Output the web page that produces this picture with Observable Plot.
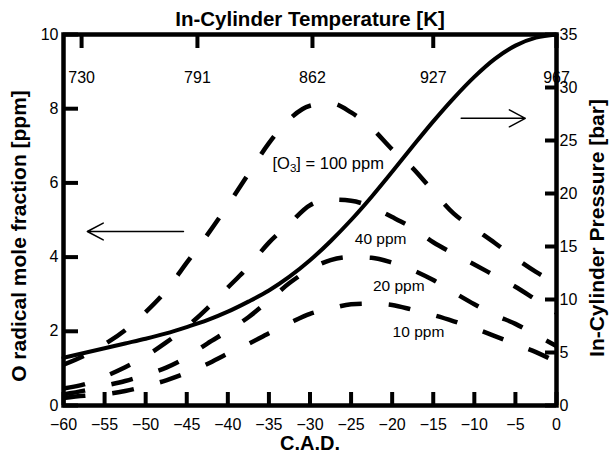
<!DOCTYPE html>
<html>
<head>
<meta charset="utf-8">
<script src="https://cdn.jsdelivr.net/npm/d3@7"></script>
<script src="https://cdn.jsdelivr.net/npm/@observablehq/plot@0.6"></script>
<style>
  body { margin: 0; background: #fff; }
  #chart svg { display: block; }
</style>
</head>
<body>
<div id="chart"></div>
<script>
// Crank angle (C.A.D.)
const cad = [-60, -57.5, -55, -52.5, -50, -47.5, -45, -42.5, -40, -37.5, -35, -32.5, -30,
             -27.5, -25, -22.5, -20, -17.5, -15, -12.5, -10, -7.5, -5, -2.5, 0];
// O radical mole fraction [ppm] for each ozone seeding level
const o100 = [1.10, 1.34, 1.65, 2.03, 2.52, 3.10, 3.85, 4.60, 5.40, 6.24, 7.07, 7.72, 8.08,
              8.15, 7.90, 7.48, 6.90, 6.40, 5.77, 5.17, 4.77, 4.38, 3.97, 3.60, 3.29];
const o40  = [0.46, 0.57, 0.78, 1.03, 1.33, 1.70, 2.12, 2.62, 3.18, 3.74, 4.39, 4.90, 5.40,
              5.55, 5.52, 5.35, 5.08, 4.78, 4.40, 4.09, 3.80, 3.50, 3.20, 2.85, 2.50];
const o20  = [0.30, 0.40, 0.53, 0.66, 0.83, 1.02, 1.30, 1.67, 2.01, 2.38, 2.83, 3.30, 3.67,
              3.92, 4.00, 3.98, 3.85, 3.65, 3.38, 3.05, 2.73, 2.44, 2.20, 1.90, 1.60];
const o10  = [0.20, 0.26, 0.30, 0.39, 0.52, 0.68, 0.88, 1.12, 1.40, 1.66, 1.95, 2.22, 2.47,
              2.61, 2.73, 2.75, 2.71, 2.58, 2.44, 2.27, 2.08, 1.87, 1.65, 1.44, 1.17];
// In-cylinder pressure [bar]
const pressure = [4.5, 4.95, 5.4, 5.85, 6.3, 6.8, 7.4, 8.05, 8.85, 9.8, 10.85, 12.15, 13.7,
                  15.5, 17.5, 19.7, 22.05, 24.45, 26.8, 29.0, 31.0, 32.7, 33.95, 34.7, 35.0];

// Axis ticks
const xTicks = [-60, -55, -50, -45, -40, -35, -30, -25, -20, -15, -10, -5, 0];
const yTicks = [0, 2, 4, 6, 8, 10];
const pTicks = [0, 5, 10, 15, 20, 25, 30, 35];
const tempPos = [-57.8, -43.7, -29.7, -15.0, 0];
const tempLabels = ["730", "791", "862", "927", "967"];

// Annotations
const o3LabelParts = ["[O", "3", "] = 100 ppm"];
const o3LabelX = -34.56, o3LabelY = 6.52;
const seriesLabels = ["40 ppm", "20 ppm", "10 ppm"];
const seriesLabelX = [-21.4, -19.2, -16.8];
const seriesLabelY = [4.50, 3.23, 1.97];
const arrowX1 = [-45.4, -11.6];
const arrowX2 = [-57.1, -3.8];
const arrowY = [4.69, 7.74];

const pMax = 35, yMax = 10;
const pToY = p => p * yMax / pMax;

const series = [
  {name: "100", values: o100},
  {name: "40", values: o40},
  {name: "20", values: o20},
  {name: "10", values: o10}
];
const rows = series.flatMap(s => cad.map((c, i) => ({cad: c, v: s.values[i], s: s.name})));
const pRows = cad.map((c, i) => ({cad: c, p: pressure[i]}));
const labelRows = seriesLabels.map((t, i) => ({t, x: seriesLabelX[i], y: seriesLabelY[i]}));
const arrowRows = arrowX1.map((x1, i) => ({x1, x2: arrowX2[i], y: arrowY[i]}));

const W = 613, H = 457, mL = 63, mR = 57, mT = 34, mB = 52;
const iW = W - mL - mR, iH = H - mT - mB;

const fsAnn = 16.5, fsSub = 11.5;
const o3dx = [0, (0.278 + 0.778) * fsAnn, (0.278 + 0.778) * fsAnn + 0.556 * fsSub];
const o3dy = [0, 5, 0];
const o3fs = [fsAnn, fsSub, fsAnn];

const chart = Plot.plot({
  width: W, height: H,
  marginLeft: mL, marginRight: mR, marginTop: mT, marginBottom: mB,
  style: {fontFamily: "'Liberation Sans', Arial, sans-serif", fontSize: "16px", color: "#000", background: "#fff"},
  x: {domain: [-60, 0]},
  y: {domain: [0, yMax]},
  marks: [
    // tick labels
    Plot.axisX(xTicks, {anchor: "bottom", tickSize: 0, tickPadding: 13, label: null, fontSize: 16}),
    Plot.axisY(yTicks, {anchor: "left", tickSize: 0, tickPadding: 5, label: null, fontSize: 16}),
    Plot.axisY(pTicks.map(pToY), {anchor: "right", tickSize: 0, tickPadding: 3, label: null, fontSize: 16,
      tickFormat: (d, i) => String(pTicks[i])}),
    // inward ticks
    Plot.tickX(xTicks, {x: d => d, insetTop: iH - 13, strokeWidth: 4}),
    Plot.tickX(tempPos, {x: d => d, insetBottom: iH - 14, strokeWidth: 4}),
    Plot.tickY(yTicks, {y: d => d, insetRight: iW - 15, strokeWidth: 4}),
    Plot.tickY(pTicks, {y: d => pToY(d), insetLeft: iW - 11, strokeWidth: 4}),
    // top temperature labels
    Plot.text(tempPos, {x: d => d, text: (d, i) => tempLabels[i], frameAnchor: "top", lineAnchor: "middle",
      dy: 43, fontSize: 16}),
    // O radical curves (dashed)
    Plot.line(rows, {x: "cad", y: "v", z: "s", stroke: "#000", strokeWidth: 4.5,
      strokeDasharray: "22,27", strokeLinecap: "butt", curve: "monotone-x"}),
    // pressure (solid)
    Plot.line(pRows, {x: "cad", y: d => pToY(d.p), stroke: "#000", strokeWidth: 4, curve: "monotone-x"}),
    // series labels
    ...o3LabelParts.map((t, i) => Plot.text([t], {x: () => o3LabelX, y: () => o3LabelY, text: d => d,
      textAnchor: "start", dx: o3dx[i], dy: o3dy[i], fontSize: o3fs[i], fill: "#000"})),
    Plot.text(labelRows, {x: "x", y: "y", text: "t", fontSize: 15.5, fill: "#000"}),
    // arrows
    Plot.arrow(arrowRows, {x1: "x1", x2: "x2", y1: "y", y2: "y", stroke: "#000", strokeWidth: 1.5,
      headLength: 18, headAngle: 56}),
    // frame
    Plot.frame({stroke: "#000", strokeWidth: 4.5}),
    // axis titles
    Plot.text(["In-Cylinder Temperature [K]"], {text: d => d, frameAnchor: "top", lineAnchor: "middle",
      textAnchor: "middle", dy: -15, fontWeight: "bold", fontSize: 20.5}),
    Plot.text(["C.A.D."], {text: d => d, frameAnchor: "bottom", lineAnchor: "middle", textAnchor: "middle",
      dy: 38, fontWeight: "bold", fontSize: 20}),
    Plot.text(["O radical mole fraction [ppm]"], {text: d => d, frameAnchor: "left", lineAnchor: "middle",
      textAnchor: "middle", dx: -44, dy: 16, rotate: -90, fontWeight: "bold", fontSize: 21}),
    Plot.text(["In-Cylinder Pressure [bar]"], {text: d => d, frameAnchor: "right", lineAnchor: "middle",
      textAnchor: "middle", dx: 41, dy: 8, rotate: -90, fontWeight: "bold", fontSize: 21})
  ]
});
document.getElementById("chart").append(chart);
</script>
</body>
</html>
